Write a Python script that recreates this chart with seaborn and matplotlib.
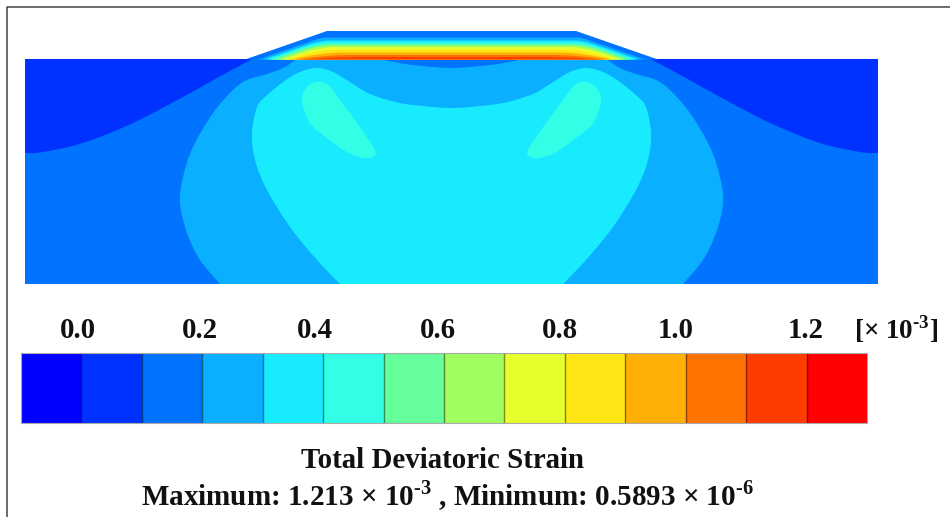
import matplotlib
matplotlib.use('Agg')
import matplotlib.pyplot as plt
from matplotlib.colors import ListedColormap
from matplotlib.patches import PathPatch, Rectangle
from matplotlib.path import Path
import numpy as np
import seaborn as sns

# 14 contour levels of the legend
level_colors = ['#0000ff', '#0032ff', '#0073ff', '#0aafff', '#19ebff', '#32ffe6', '#64ff9b',
                '#a0ff5f', '#e6ff2d', '#ffe614', '#ffaf05', '#ff7300', '#ff3c00', '#ff0000']
tick_labels = ['0.0', '0.2', '0.4', '0.6', '0.8', '1.0', '1.2']
tick_x = [78, 200, 315, 438, 560, 676, 806]

# model outline, read in pixels of the picture
ground_x = [25, 878]
ground_y = [59, 284]
center_x = 451.5

# left half of each contour, the right half is the mirror image
band1_x = [25, 43, 83, 133, 183, 217, 245, 253]
band1_y = [153, 152, 143, 123, 97, 78, 63, 59]
band3_x = [220, 200, 187, 180, 183, 193, 213, 233, 247, 267, 283, 297]
band3_y = [284, 260, 233, 203, 177, 147, 113, 90, 80, 74, 68, 59]
band4_x = [340, 317, 290, 267, 255, 252, 257, 265, 283, 300, 317, 333, 350, 370, 400, 433, 451.5]
band4_y = [284, 260, 227, 190, 160, 133, 107, 97, 82, 72, 68, 72, 82, 94, 103, 107, 108]
band5_x = [302, 307, 317, 328, 340, 357, 375, 372, 363, 347, 327, 310, 302]
band5_y = [100, 87, 82, 85, 100, 123, 150, 157, 158, 152, 138, 123, 100]
lens_x = [380, 405, 433, 451.5]
lens_y = [59, 64, 67, 68]

# embankment bands: level, foot x, shoulder x, top y
bank_level = [2, 3, 4, 5, 6, 7, 8, 9, 10, 11, 12]
bank_foot = [245, 258, 264, 268, 272, 277, 282, 287, 291, 296, 302]
bank_shoulder = [327, 322, 320, 318, 318, 318, 320, 322, 325, 330, 338]
bank_top = [31, 37.5, 40.5, 42.5, 44, 45.5, 47, 49.5, 52.5, 55, 57]
bank_round = [0, 4, 8, 10, 12, 12, 14, 14, 16, 16, 18]


def smooth(ax, xs, ys, color, close_to=None, zorder=2):
    # bezier segments through the read points
    pts = np.column_stack([xs, ys]).astype(float)
    loop = (pts[0] == pts[-1]).all()
    n = len(pts)
    verts, codes = [pts[0]], [Path.MOVETO]
    for i in range(n - 1):
        before = pts[n - 2] if (loop and i == 0) else pts[max(i - 1, 0)]
        after = pts[1] if (loop and i == n - 2) else pts[min(i + 2, n - 1)]
        verts += [pts[i] + (pts[i + 1] - before) / 6, pts[i + 1] - (after - pts[i]) / 6, pts[i + 1]]
        codes += [Path.CURVE4] * 3
    for p in close_to or []:
        verts.append(p)
        codes.append(Path.LINETO)
    verts.append(pts[0])
    codes.append(Path.CLOSEPOLY)
    ax.add_patch(PathPatch(Path(verts, codes), facecolor=color, edgecolor='none', zorder=zorder))


def flip(xs):
    return [2 * center_x - x for x in xs]


def mirror(xs, ys):
    # full contour from a left half
    return list(xs) + flip(xs[-2::-1]), list(ys) + list(ys[-2::-1])


def bank_band(ax, color, foot, sh, top, r, zorder=6):
    # trapezoid with rounded shoulders
    base = 59.5
    slope_x = sh - r * 1.5
    slope_y = top + (base - top) * r * 1.5 / (sh - foot)
    right = 2 * center_x
    verts = [(foot, base), (slope_x, slope_y), (sh, top), (sh + r, top),
             (right - sh - r, top), (right - sh, top), (right - slope_x, slope_y),
             (right - foot, base), (foot, base)]
    codes = [Path.MOVETO, Path.LINETO, Path.CURVE3, Path.CURVE3,
             Path.LINETO, Path.CURVE3, Path.CURVE3, Path.LINETO, Path.CLOSEPOLY]
    ax.add_patch(PathPatch(Path(verts, codes), facecolor=color, edgecolor='none', zorder=zorder))


sns.set_theme(style='white')
plt.rcParams['font.family'] = ['Liberation Serif', 'DejaVu Serif']
plt.rcParams['mathtext.fontset'] = 'custom'
plt.rcParams['mathtext.rm'] = 'Liberation Serif:bold'

fig = plt.figure(figsize=(9.5, 5.17), dpi=100)
ax = fig.add_axes([0, 0, 1, 1])
ax.set_xlim(0, 950)
ax.set_ylim(517, 0)
ax.axis('off')

# frame of the picture, open on the right and at the bottom
ax.plot([7, 7, 950], [517, 7, 7], color='#444444', lw=1.1, zorder=1)

# ground
ax.add_patch(Rectangle((ground_x[0], ground_y[0]), ground_x[1] - ground_x[0], ground_y[1] - ground_y[0],
                       facecolor=level_colors[2], edgecolor='none', zorder=2))
smooth(ax, band1_x, band1_y, level_colors[1], close_to=[(25, 59)], zorder=3)
smooth(ax, flip(band1_x), band1_y, level_colors[1], close_to=[(878, 59)], zorder=3)
smooth(ax, band3_x, band3_y, level_colors[3], close_to=[(center_x + 1, 59), (center_x + 1, 284)], zorder=3)
smooth(ax, flip(band3_x), band3_y, level_colors[3], close_to=[(center_x - 1, 59), (center_x - 1, 284)], zorder=3)
x4, y4 = mirror(band4_x, band4_y)
smooth(ax, x4, y4, level_colors[4], zorder=4)
smooth(ax, band5_x, band5_y, level_colors[5], zorder=5)
smooth(ax, flip(band5_x), band5_y, level_colors[5], zorder=5)
lx, ly = mirror(lens_x, lens_y)
smooth(ax, lx, ly, level_colors[2], zorder=5)

# embankment, nested bands from the outside in
for lev, foot, sh, top, r in zip(bank_level, bank_foot, bank_shoulder, bank_top, bank_round):
    bank_band(ax, level_colors[lev], foot, sh, top, r)

# legend strip
cax = fig.add_axes([21 / 950, 1 - 423 / 517, (867 - 21) / 950, 70 / 517])
levels = np.arange(len(level_colors)).reshape(1, -1)
sns.heatmap(levels, ax=cax, cmap=ListedColormap(level_colors), cbar=False, xticklabels=False,
            yticklabels=False, linewidths=0)
cax.vlines(np.arange(1, len(level_colors)), 0, 1, color=(0, 0, 0, 0.45), lw=1.0)
for side in cax.spines.values():
    side.set_visible(True)
    side.set_color('#aaaaaa')
    side.set_linewidth(0.8)

text_color = '#111111'
for x, label in zip(tick_x, tick_labels):
    ax.text(x, 330, label, ha='center', va='center', fontsize=20.8, fontweight='bold', color=text_color)
ax.text(896, 329, '[× 10$^{\\text{-3}}$]', ha='center', va='center', fontsize=19.5, fontweight='bold', color=text_color)
ax.text(443, 461, 'Total Deviatoric Strain', ha='center', va='center', fontsize=20.8, fontweight='bold', color=text_color)
ax.text(447, 496, 'Maximum: 1.213 × 10$^{\\text{-3}}$ , Minimum: 0.5893 × 10$^{\\text{-6}}$', ha='center', va='center',
        fontsize=21, fontweight='bold', color=text_color)

fig.savefig('out.png', dpi=100)
